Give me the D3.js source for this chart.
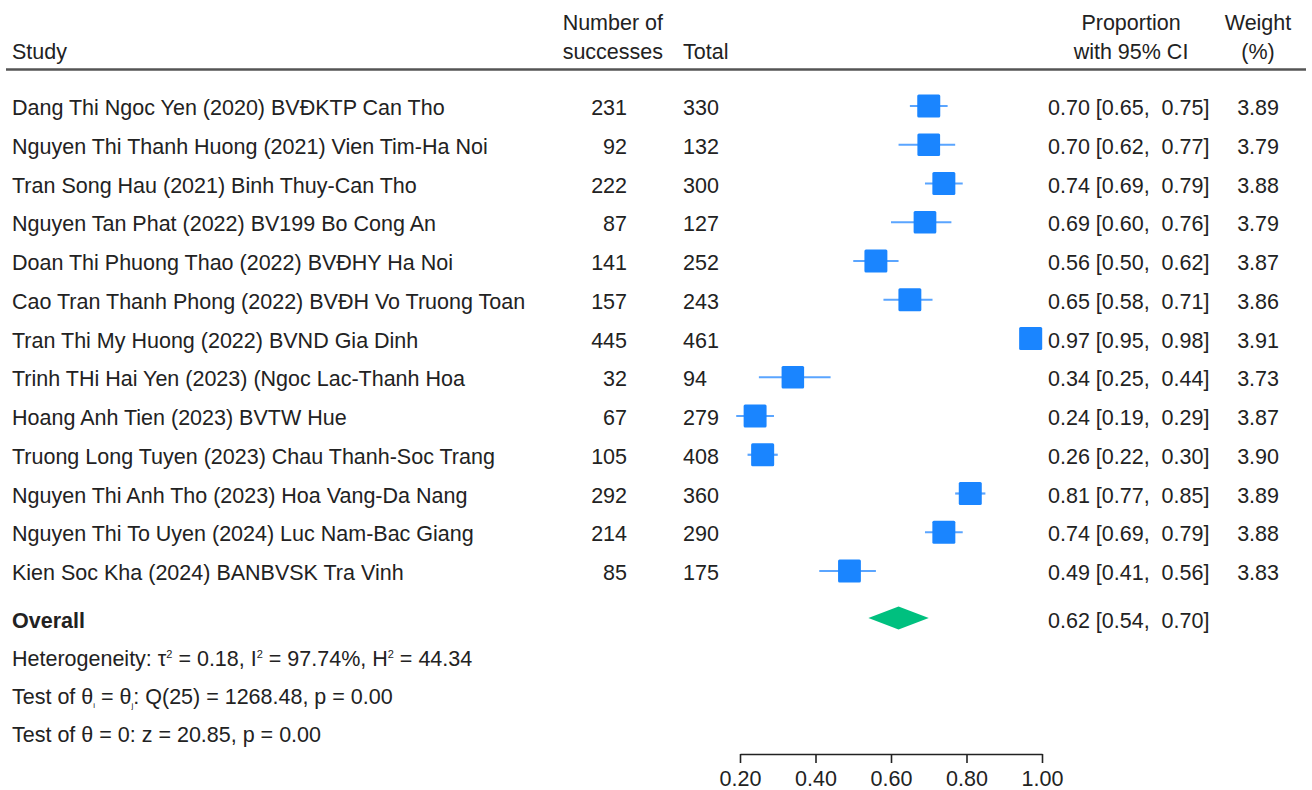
<!DOCTYPE html>
<html>
<head>
<meta charset="UTF-8">
<script src="https://cdn.jsdelivr.net/npm/d3@7"></script>
<style>
  body { margin: 0; background: #fff; }
  text { font-family: "Liberation Sans", Arial, sans-serif; font-size: 21.5px; fill: #222; white-space: pre; }
</style>
</head>
<body>
<script>
var studies = [
  "Dang Thi Ngoc Yen (2020) BVĐKTP Can Tho",
  "Nguyen Thi Thanh Huong (2021) Vien Tim-Ha Noi",
  "Tran Song Hau (2021) Binh Thuy-Can Tho",
  "Nguyen Tan Phat (2022) BV199 Bo Cong An",
  "Doan Thi Phuong Thao (2022) BVĐHY Ha Noi",
  "Cao Tran Thanh Phong (2022) BVĐH Vo Truong Toan",
  "Tran Thi My Huong (2022) BVND Gia Dinh",
  "Trinh THi Hai Yen (2023) (Ngoc Lac-Thanh Hoa",
  "Hoang Anh Tien (2023) BVTW Hue",
  "Truong Long Tuyen (2023) Chau Thanh-Soc Trang",
  "Nguyen Thi Anh Tho (2023) Hoa Vang-Da Nang",
  "Nguyen Thi To Uyen (2024) Luc Nam-Bac Giang",
  "Kien Soc Kha (2024) BANBVSK Tra Vinh"
]
var successes = [231, 92, 222, 87, 141, 157, 445, 32, 67, 105, 292, 214, 85]
var totals = [330, 132, 300, 127, 252, 243, 461, 94, 279, 408, 360, 290, 175]
var props = [0.70, 0.70, 0.74, 0.69, 0.56, 0.65, 0.97, 0.34, 0.24, 0.26, 0.81, 0.74, 0.49]
var ciLow = [0.65, 0.62, 0.69, 0.60, 0.50, 0.58, 0.95, 0.25, 0.19, 0.22, 0.77, 0.69, 0.41]
var ciHigh = [0.75, 0.77, 0.79, 0.76, 0.62, 0.71, 0.98, 0.44, 0.29, 0.30, 0.85, 0.79, 0.56]
var weights = [3.89, 3.79, 3.88, 3.79, 3.87, 3.86, 3.91, 3.73, 3.87, 3.90, 3.89, 3.88, 3.83]
var overall = [0.62, 0.54, 0.70]
var axisTicks = [0.2, 0.4, 0.6, 0.8, 1.0]

var width = 1312, height = 790
var svg = d3.select('body').append('svg').attr('width', width).attr('height', height)

var x = d3.scaleLinear().domain([0.2, 1.0]).range([740, 1042])
var y = d3.scaleLinear().domain([0, 12]).range([106, 571])
var yFoot = d3.scaleLinear().domain([0, 3]).range([628, 742])   // baselines of bottom rows
var side = d3.scaleSqrt().domain([0, 3.89]).range([0, 23])
var f2 = d3.format('.2f')

// header
var head = svg.append('g')
head.append('text').attr('x', 12).attr('y', 59).text('Study')
head.append('text').attr('x', 663).attr('y', 30).attr('text-anchor', 'end').text('Number of')
head.append('text').attr('x', 663).attr('y', 59).attr('text-anchor', 'end').text('successes')
head.append('text').attr('x', 683).attr('y', 59).text('Total')
head.append('text').attr('x', 1131).attr('y', 30).attr('text-anchor', 'middle').text('Proportion')
head.append('text').attr('x', 1131).attr('y', 59).attr('text-anchor', 'middle').text('with 95% CI')
head.append('text').attr('x', 1258).attr('y', 30).attr('text-anchor', 'middle').text('Weight')
head.append('text').attr('x', 1258).attr('y', 59).attr('text-anchor', 'middle').text('(%)')
head.append('line').attr('x1', 6).attr('x2', 1306).attr('y1', 69.5).attr('y2', 69.5)
  .attr('stroke', '#555').attr('stroke-width', 2.5)

// study rows
var rows = svg.selectAll('.row').data(studies).enter().append('g')
  .attr('class', 'row')
  .attr('transform', function(d, i) { return 'translate(0,' + y(i) + ')' })

rows.append('text').attr('x', 12).attr('y', 9).text(function(d) { return d })
rows.append('text').attr('x', 627).attr('y', 9).attr('text-anchor', 'end')
  .text(function(d, i) { return successes[i] })
rows.append('text').attr('x', 683).attr('y', 9)
  .text(function(d, i) { return totals[i] })
rows.append('line')
  .attr('x1', function(d, i) { return x(ciLow[i]) })
  .attr('x2', function(d, i) { return x(ciHigh[i]) })
  .attr('stroke', '#5aa5ff').attr('stroke-width', 2.2)
rows.append('rect')
  .attr('x', function(d, i) { return x(props[i]) - side(weights[i]) / 2 })
  .attr('y', function(d, i) { return -side(weights[i]) / 2 })
  .attr('width', function(d, i) { return side(weights[i]) })
  .attr('height', function(d, i) { return side(weights[i]) })
  .attr('rx', 1.5)
  .attr('fill', '#1a85ff')
rows.append('text').attr('x', 1048).attr('y', 9)
  .text(function(d, i) { return f2(props[i]) + ' [' + f2(ciLow[i]) + ',  ' + f2(ciHigh[i]) + ']' })
rows.append('text').attr('x', 1279).attr('y', 9).attr('text-anchor', 'end')
  .text(function(d, i) { return f2(weights[i]) })

// overall
svg.append('text').attr('x', 12).attr('y', yFoot(0)).attr('font-weight', 'bold').text('Overall')
var dy = yFoot(0) - 10
svg.append('path')
  .attr('d', 'M' + x(overall[1]) + ',' + dy + 'L' + x(overall[0]) + ',' + (dy - 11.5) +
             'L' + x(overall[2]) + ',' + dy + 'L' + x(overall[0]) + ',' + (dy + 11.5) + 'Z')
  .attr('fill', '#00c07f')
svg.append('text').attr('x', 1048).attr('y', yFoot(0))
  .text(f2(overall[0]) + ' [' + f2(overall[1]) + ',  ' + f2(overall[2]) + ']')

// heterogeneity / tests
var t1 = svg.append('text').attr('x', 12).attr('y', yFoot(1))
t1.append('tspan').text('Heterogeneity: τ')
t1.append('tspan').attr('dy', -8).attr('font-size', 11).text('2')
t1.append('tspan').attr('dy', 8).text(' = 0.18, I')
t1.append('tspan').attr('dy', -8).attr('font-size', 11).text('2')
t1.append('tspan').attr('dy', 8).text(' = 97.74%, H')
t1.append('tspan').attr('dy', -8).attr('font-size', 11).text('2')
t1.append('tspan').attr('dy', 8).text(' = 44.34')

var t2 = svg.append('text').attr('x', 12).attr('y', yFoot(2))
t2.append('tspan').text('Test of θ')
t2.append('tspan').attr('dy', 4).attr('font-size', 8).text('i')
t2.append('tspan').attr('dy', -4).text(' = θ')
t2.append('tspan').attr('dy', 4).attr('font-size', 8).text('j')
t2.append('tspan').attr('dy', -4).text(': Q(25) = 1268.48, p = 0.00')

svg.append('text').attr('x', 12).attr('y', yFoot(3)).text('Test of θ = 0: z = 20.85, p = 0.00')

// axis
var axis = svg.append('g').attr('transform', 'translate(0,754)')
  .call(d3.axisBottom(x).tickValues(axisTicks).tickFormat(f2).tickSize(9).tickSizeOuter(0).tickPadding(8))
axis.select('.domain').attr('stroke', '#222').attr('stroke-width', 1.6)
axis.selectAll('.tick line').attr('stroke', '#222').attr('stroke-width', 1.6)
axis.selectAll('.tick text').attr('font-size', 21.5).attr('font-family', '"Liberation Sans", Arial, sans-serif').attr('fill', '#222')
</script>
</body>
</html>
